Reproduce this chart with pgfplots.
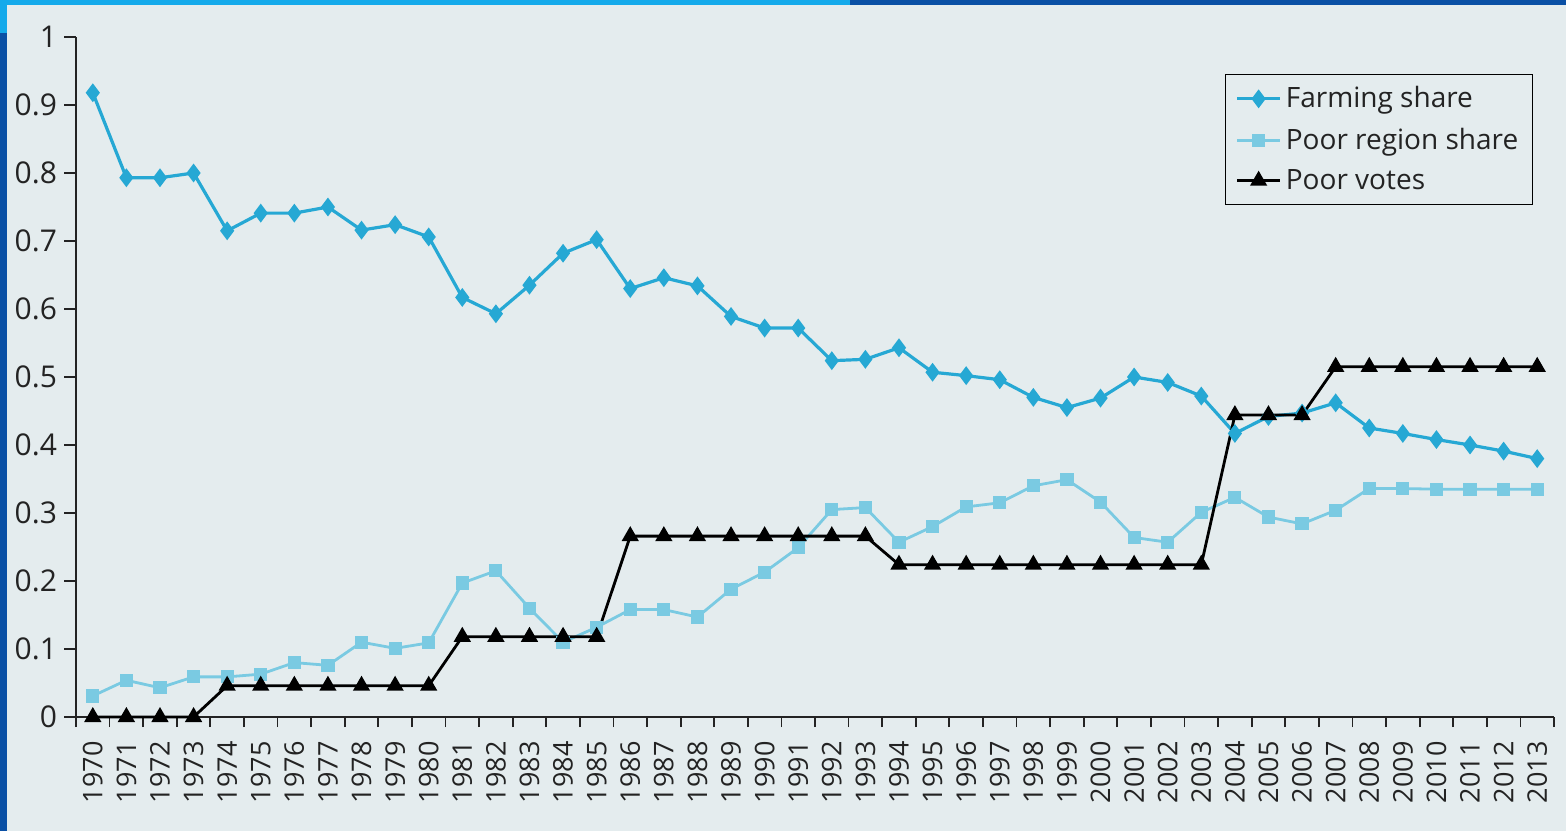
\documentclass[border=0pt]{standalone}
\usepackage{fontspec}
\setmainfont{Open Sans}
\usepackage{pgfplots}
\pgfplotsset{compat=1.18}
\definecolor{farm}{RGB}{38,168,212}
\definecolor{poorreg}{RGB}{122,202,226}
\definecolor{bgc}{RGB}{228,236,238}
\definecolor{bluedark}{RGB}{10,80,165}
\definecolor{bluelight}{RGB}{20,170,235}
\definecolor{axc}{RGB}{35,35,35}
\begin{document}
\begin{tikzpicture}
\fill[bgc] (-38pt,-57pt) rectangle (745pt,358.5pt);
\fill[bluedark] (-38pt,-57pt) rectangle (-34.5pt,358.5pt);
\fill[bluedark] (-38pt,356pt) rectangle (745pt,358.5pt);
\fill[bluelight] (-38pt,356pt) rectangle (387pt,358.5pt);
\fill[bluelight] (-38pt,342pt) rectangle (-34.5pt,358.5pt);
\begin{axis}[
  scale only axis, width=739pt, height=340pt,
  at={(0,0)}, anchor=south west,
  xmin=1969.5, xmax=2013.5, ymin=0, ymax=1,
  axis x line=bottom, axis y line=left,
  axis line style={-, draw=axc, line width=0.9pt},
  tick align=outside,
  tick style={draw=axc, line width=0.9pt},
  major tick length=6pt, minor tick length=5pt,
  xtick={1970,1971,1972,1973,1974,1975,1976,1977,1978,1979,1980,1981,1982,1983,1984,1985,1986,1987,1988,1989,1990,1991,1992,1993,1994,1995,1996,1997,1998,1999,2000,2001,2002,2003,2004,2005,2006,2007,2008,2009,2010,2011,2012,2013},
  xticklabels={1970,1971,1972,1973,1974,1975,1976,1977,1978,1979,1980,1981,1982,1983,1984,1985,1986,1987,1988,1989,1990,1991,1992,1993,1994,1995,1996,1997,1998,1999,2000,2001,2002,2003,2004,2005,2006,2007,2008,2009,2010,2011,2012,2013},
  major x tick style={draw=none},
  minor xtick={1969.5,1970.5,...,2013.5},
  xticklabel style={rotate=90, anchor=east, font=\fontsize{13.5}{13.5}\selectfont, text=axc, inner sep=1pt, xshift=-5pt},
  ytick={0,0.1,0.2,0.3,0.4,0.5,0.6,0.7,0.8,0.9,1},
  yticklabels={0,0.1,0.2,0.3,0.4,0.5,0.6,0.7,0.8,0.9,1},
  yticklabel style={font=\fontsize{15}{15}\selectfont, text=axc},
  clip=false,
  legend style={at={(0.9858,0.9456)}, anchor=north east, draw=black, line width=0.7pt,
    fill=none, font=\fontsize{14}{15}\selectfont, text=axc, row sep=4.5pt,
    inner xsep=5pt, inner ysep=4pt},
  legend cell align=left,
  legend image code/.code={\draw[mark repeat=2,mark phase=2,#1] plot coordinates {(0cm,0cm) (0.38cm,0cm) (0.76cm,0cm)};},
]
\addplot[farm, line width=1.6pt, mark=diamond*, mark size=3.4pt] coordinates {
(1970,0.918) (1971,0.793) (1972,0.793) (1973,0.800) (1974,0.715) (1975,0.741)
(1976,0.741) (1977,0.750) (1978,0.716) (1979,0.724) (1980,0.706) (1981,0.617)
(1982,0.593) (1983,0.635) (1984,0.682) (1985,0.702) (1986,0.630) (1987,0.646)
(1988,0.634) (1989,0.589) (1990,0.572) (1991,0.572) (1992,0.524) (1993,0.526)
(1994,0.543) (1995,0.507) (1996,0.502) (1997,0.496) (1998,0.470) (1999,0.455)
(2000,0.469) (2001,0.500) (2002,0.492) (2003,0.472) (2004,0.417) (2005,0.442)
(2006,0.447) (2007,0.462) (2008,0.425) (2009,0.417) (2010,0.408) (2011,0.400)
(2012,0.391) (2013,0.380)};
\addlegendentry{Farming share}
\addplot[poorreg, line width=1.4pt, mark=square*, mark size=2.6pt] coordinates {
(1970,0.031) (1971,0.054) (1972,0.043) (1973,0.059) (1974,0.059) (1975,0.063)
(1976,0.080) (1977,0.076) (1978,0.110) (1979,0.101) (1980,0.109) (1981,0.197)
(1982,0.215) (1983,0.160) (1984,0.110) (1985,0.132) (1986,0.158) (1987,0.158)
(1988,0.147) (1989,0.188) (1990,0.213) (1991,0.249) (1992,0.305) (1993,0.308)
(1994,0.257) (1995,0.280) (1996,0.309) (1997,0.315) (1998,0.340) (1999,0.349)
(2000,0.316) (2001,0.264) (2002,0.257) (2003,0.301) (2004,0.323) (2005,0.294)
(2006,0.284) (2007,0.304) (2008,0.336) (2009,0.336) (2010,0.335) (2011,0.335)
(2012,0.335) (2013,0.335)};
\addlegendentry{Poor region share}
\addplot[black, line width=1.4pt, mark=triangle*, mark size=3.6pt] coordinates {
(1970,0) (1971,0) (1972,0) (1973,0) (1974,0.046) (1975,0.046)
(1976,0.046) (1977,0.046) (1978,0.046) (1979,0.046) (1980,0.046) (1981,0.118)
(1982,0.118) (1983,0.118) (1984,0.118) (1985,0.118) (1986,0.266) (1987,0.266)
(1988,0.266) (1989,0.266) (1990,0.266) (1991,0.266) (1992,0.266) (1993,0.266)
(1994,0.224) (1995,0.224) (1996,0.224) (1997,0.224) (1998,0.224) (1999,0.224)
(2000,0.224) (2001,0.224) (2002,0.224) (2003,0.224) (2004,0.444) (2005,0.444)
(2006,0.444) (2007,0.515) (2008,0.515) (2009,0.515) (2010,0.515) (2011,0.515)
(2012,0.515) (2013,0.515)};
\addlegendentry{Poor votes}
\end{axis}
\pgfresetboundingbox
\path (-38pt,-57pt) rectangle (745pt,358.5pt);
\end{tikzpicture}
\end{document}
